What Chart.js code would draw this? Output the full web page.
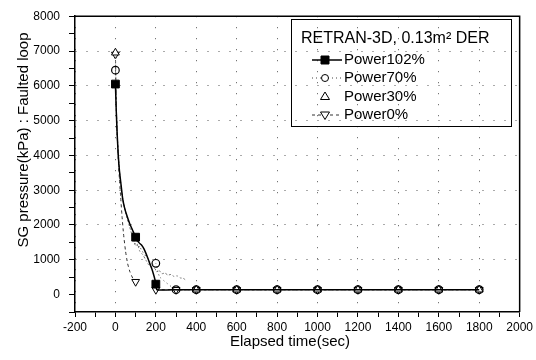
<!DOCTYPE html>
<html>
<head>
<meta charset="utf-8">
<script src="https://cdn.jsdelivr.net/npm/chart.js@4"></script>
<style>
  html, body { margin: 0; padding: 0; background: #fff; }
  #wrap { width: 536px; height: 360px; }
</style>
</head>
<body>
<div id="wrap"><canvas id="myChart" width="536" height="360"></canvas></div>
<script>
// values (time in sec, pressure in kPa)
const seriesNames = ["Power102%", "Power70%", "Power30%", "Power0%"];
const legendTitle = "RETRAN-3D, 0.13m\u00B2 DER";
const xTitle = "Elapsed time(sec)";
const yTitle = "SG pressure(kPa) : Faulted loop";

const t102 = [0, 4, 8, 14, 20, 28, 36, 45, 55, 70, 85, 100, 115, 130, 140, 150, 160, 170, 180, 188, 196, 200, 205, 300, 400, 600, 800, 1000, 1200, 1400, 1600, 1800];
const p102 = [6050, 5300, 4700, 4000, 3550, 3150, 2750, 2500, 2300, 2050, 1850, 1650, 1500, 1420, 1330, 1200, 1050, 890, 740, 590, 420, 300, 140, 140, 140, 140, 140, 140, 140, 140, 140, 140];
const marks102 = [0, 100, 200];

const t70 = [0, 4, 8, 14, 20, 28, 36, 45, 55, 70, 85, 95, 105, 112, 120, 130, 140, 150, 160, 170, 180, 190, 200, 210, 220, 300, 400, 600, 800, 1000, 1200, 1400, 1600, 1800];
const p70 = [6450, 5400, 4700, 4000, 3500, 3100, 2750, 2500, 2300, 2000, 1750, 1450, 1550, 1350, 1400, 1250, 1200, 1100, 1050, 950, 900, 850, 900, 650, 500, 140, 140, 140, 140, 140, 140, 140, 140, 140];
const marks70 = [0, 200, 300, 400, 600, 800, 1000, 1200, 1400, 1600, 1800];

const t30 = [0, 4, 8, 14, 20, 28, 36, 45, 55, 70, 85, 100, 110, 120, 135, 150, 165, 180, 195, 205, 215, 230, 245, 260, 275, 290, 305, 320, 335, 345, 370, 400, 600, 800, 1000, 1200, 1400, 1600, 1800];
const p30 = [6950, 5500, 4750, 4050, 3550, 3100, 2750, 2500, 2250, 1950, 1650, 1400, 1450, 1250, 1150, 1000, 850, 800, 750, 650, 700, 600, 620, 560, 580, 520, 540, 480, 470, 430, null, 140, 140, 140, 140, 140, 140, 140, 140];
const marks30 = [0, 400, 600, 800, 1000, 1200, 1400, 1600, 1800];

const t0 = [0, 4, 8, 14, 20, 26, 32, 40, 50, 60, 72, 86, 100, 150, 200, 300, 400, 600, 800, 1000, 1200, 1400, 1600, 1800];
const p0 = [6900, 5500, 4700, 3900, 3300, 2800, 2300, 1750, 1250, 900, 650, 470, 370, null, 140, 140, 140, 140, 140, 140, 140, 140, 140, 140];
const marks0 = [0, 100, 200, 300, 400, 600, 800, 1000, 1200, 1400, 1600, 1800];

const FONT = 'Arial, "Liberation Sans", sans-serif';

function pts(ts, ps) {
  return ts.map((t, i) => ({ x: t, y: ps[i] }));
}
function markAt(marks, r) {
  return ctx => (ctx.raw && marks.includes(ctx.raw.x)) ? r : 0;
}

// frame, axis titles and the boxed legend
const decor = {
  id: 'decor',
  afterDraw(chart) {
    const { ctx, chartArea: a } = chart;
    ctx.save();
    ctx.strokeStyle = '#000';
    ctx.lineWidth = 1.5;
    ctx.beginPath();
    ctx.moveTo(a.left, a.top);
    ctx.lineTo(a.right, a.top);
    ctx.lineTo(a.right, a.bottom);
    ctx.stroke();

    ctx.fillStyle = '#000';
    ctx.textAlign = 'center';
    ctx.textBaseline = 'middle';
    ctx.font = '15px ' + FONT;
    ctx.fillText(xTitle, 290, 342);
    ctx.save();
    ctx.translate(24, 140);
    ctx.rotate(-Math.PI / 2);
    ctx.fillText(yTitle, 0, 0);
    ctx.restore();

    // legend box
    ctx.lineWidth = 1;
    ctx.strokeRect(291.5, 19.5, 220, 107);
    ctx.textAlign = 'left';
    ctx.font = '16px ' + FONT;
    ctx.fillText(legendTitle, 301, 39);

    ctx.font = '15px ' + FONT;
    const rows = [60, 78, 96.5, 115];
    seriesNames.forEach((name, i) => {
      const y = rows[i];
      const ds = chart.data.datasets[i];
      ctx.fillStyle = '#000';
      ctx.fillText(name, 344, y);
      if (i !== 2) {
        ctx.save();
        ctx.strokeStyle = ds.borderColor;
        ctx.lineWidth = ds.borderWidth;
        ctx.setLineDash(ds.borderDash || []);
        ctx.beginPath();
        ctx.moveTo(312, y);
        ctx.lineTo(342, y);
        ctx.stroke();
        ctx.restore();
      }
      drawMarker(ctx, i, 325, y);
    });
    ctx.restore();
  }
};

function drawMarker(ctx, i, x, y) {
  ctx.save();
  ctx.strokeStyle = '#000';
  ctx.lineWidth = 1;
  ctx.setLineDash([]);
  ctx.fillStyle = '#fff';
  ctx.beginPath();
  if (i === 0) {
    ctx.fillStyle = '#000';
    ctx.rect(x - 4, y - 4, 8, 8);
  } else if (i === 1) {
    ctx.arc(x, y, 3.5, 0, Math.PI * 2);
  } else if (i === 2) {
    ctx.moveTo(x, y - 4.5); ctx.lineTo(x + 4.5, y + 3); ctx.lineTo(x - 4.5, y + 3); ctx.closePath();
  } else {
    ctx.moveTo(x, y + 4.5); ctx.lineTo(x + 4.5, y - 3); ctx.lineTo(x - 4.5, y - 3); ctx.closePath();
  }
  ctx.fill();
  ctx.stroke();
  ctx.restore();
}

new Chart("myChart", {
  type: "line",
  data: {
    datasets: [
      {
        label: seriesNames[0], data: pts(t102, p102),
        borderColor: '#000', borderWidth: 1.5,
        pointStyle: 'rect', pointRadius: markAt(marks102, 5.5),
        pointBackgroundColor: '#000', pointBorderColor: '#000', pointBorderWidth: 1
      },
      {
        label: seriesNames[1], data: pts(t70, p70),
        borderColor: '#444', borderWidth: 1, borderDash: [1, 3],
        pointStyle: 'circle', pointRadius: markAt(marks70, 3.8),
        pointBackgroundColor: 'rgba(255,255,255,0)', pointBorderColor: '#000', pointBorderWidth: 1.2
      },
      {
        label: seriesNames[2], data: pts(t30, p30),
        borderColor: '#777', borderWidth: 1, borderDash: [2, 2],
        pointStyle: 'triangle', pointRadius: markAt(marks30, 4.5),
        pointBackgroundColor: '#fff', pointBorderColor: '#000', pointBorderWidth: 1
      },
      {
        label: seriesNames[3], data: pts(t0, p0),
        borderColor: '#333', borderWidth: 1, borderDash: [3, 3],
        pointStyle: 'triangle', pointRotation: 180, pointRadius: markAt(marks0, 4.5),
        pointBackgroundColor: '#fff', pointBorderColor: '#000', pointBorderWidth: 1
      }
    ]
  },
  options: {
    responsive: false,
    animation: false,
    spanGaps: false,
    elements: { line: { tension: 0.15 } },
    layout: { padding: { top: 14, right: 16, left: 0, bottom: 0 } },
    plugins: {
      legend: { display: false },
      tooltip: { enabled: false }
    },
    scales: {
      x: {
        type: 'linear', min: -200, max: 2000,
        afterFit: s => { s.height = 48; },
        ticks: {
          stepSize: 100, autoSkip: false, maxRotation: 0, padding: 3,
          color: '#000', font: { family: FONT, size: 12 },
          callback: v => (v % 200 === 0 ? v : '')
        },
        grid: {
          color: c => (c.tick && c.tick.value % 200 === 0 ? '#555' : 'rgba(0,0,0,0)'),
          tickColor: '#000', tickLength: 5, tickWidth: 1, tickBorderDash: []
        },
        border: { display: true, color: '#000', width: 1.5, dash: [1, 10] }
      },
      y: {
        min: -500, max: 8000,
        afterFit: s => { s.width = 75; },
        ticks: {
          stepSize: 500, autoSkip: false, padding: 9,
          color: '#000', font: { family: FONT, size: 12 },
          callback: v => (v % 1000 === 0 ? v : '')
        },
        grid: {
          color: c => (c.tick && c.tick.value % 1000 === 0 && c.tick.value > 0 ? '#555' : 'rgba(0,0,0,0)'),
          tickColor: '#000', tickLength: 6, tickWidth: 1, tickBorderDash: []
        },
        border: { display: true, color: '#000', width: 1.5, dash: [1, 10] }
      }
    }
  },
  plugins: [decor]
});
</script>
</body>
</html>
